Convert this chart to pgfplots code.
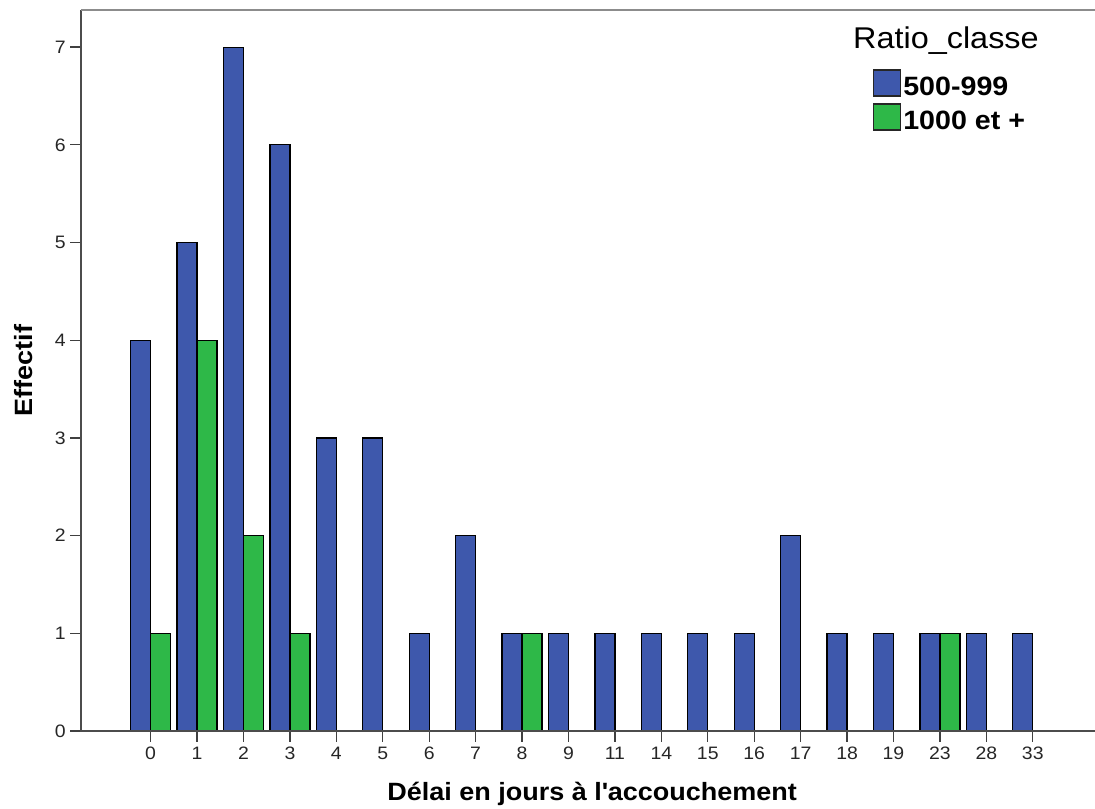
\documentclass[border=0pt]{standalone}
\usepackage{pgfplots}
\pgfplotsset{compat=1.18}
\usepackage{fontspec}
\setmainfont{Liberation Sans}[FakeStretch=1.08]
\definecolor{spssblue}{RGB}{62,88,172}
\definecolor{spssgreen}{RGB}{46,184,72}
\begin{document}
\begin{tikzpicture}
\path[use as bounding box] (0,0) rectangle (1095bp,809bp);
\begin{axis}[
  at={(81bp,78bp)}, anchor=south west,
  width=1014bp, height=721bp, scale only axis,
  xmin=-1.5, xmax=20.34, ymin=0, ymax=7.38,
  ybar=0pt, bar width=20bp,
  xtick={0,...,19},
  xticklabels={0,1,2,3,4,5,6,7,8,9,11,14,15,16,17,18,19,23,28,33},
  ytick={0,...,7},
  tick align=outside, xtick pos=left, ytick pos=left,
  major tick length=11bp,
  every tick/.style={black!75, line width=1.3bp},
  axis line style={draw=none},
  /pgf/number format/assume math mode=true,
  tick label style={font=\fontsize{18bp}{21bp}\selectfont, text=black!85},
  xticklabel style={anchor=north, inner sep=0pt, yshift=-5bp},
  yticklabel style={anchor=east, inner sep=0pt, xshift=-4bp},
  xlabel={Délai en jours à l\textquotesingle accouchement},
  ylabel={Effectif},
  label style={font=\bfseries\fontsize{25bp}{28bp}\selectfont},
  xlabel style={at={(axis description cs:0.504,-0.0957)}, anchor=base, inner sep=0pt},
  ylabel style={at={(axis description cs:-0.0562,0.5)}, anchor=center, inner sep=0pt},
  legend style={at={(axis description cs:0.781,0.918)}, anchor=north west, draw=none, fill=none,
    font=\bfseries\fontsize{26.5bp}{28bp}\selectfont, inner sep=0pt, row sep=4.5bp,
    /tikz/every even column/.append style={column sep=3bp}},
  legend cell align=left,
  clip=false,
]
\addplot[fill=spssblue, draw=black, line width=1.2bp,
  legend image code/.code={\draw[fill=spssblue, draw=black!85, line width=1.2bp] (0bp,-9bp) rectangle (27bp,17bp);}]
  coordinates {(0,4) (1,5) (2,7) (3,6) (4,3) (5,3) (6,1) (7,2) (8,1) (9,1) (10,1) (11,1) (12,1) (13,1) (14,2) (15,1) (16,1) (17,1) (18,1) (19,1)};
\addlegendentry{500-999}
\addplot[fill=spssgreen, draw=black, line width=1.2bp,
  legend image code/.code={\draw[fill=spssgreen, draw=black!85, line width=1.2bp] (0bp,-9bp) rectangle (27bp,17bp);}]
  coordinates {(0,1) (1,4) (2,2) (3,1) (8,1) (17,1)};
\addlegendentry{1000 et +}
\draw[black!70, line width=1.5bp] (rel axis cs:0,1) -- (rel axis cs:0,0) -- (rel axis cs:1,0);
\draw[black!45, line width=1.5bp] (rel axis cs:0,1) -- (rel axis cs:1,1);
\end{axis}
\node[anchor=base west, font=\fontsize{30bp}{33bp}\selectfont, inner sep=0pt] at (853bp,760bp) {Ratio\_classe};
\end{tikzpicture}
\end{document}
